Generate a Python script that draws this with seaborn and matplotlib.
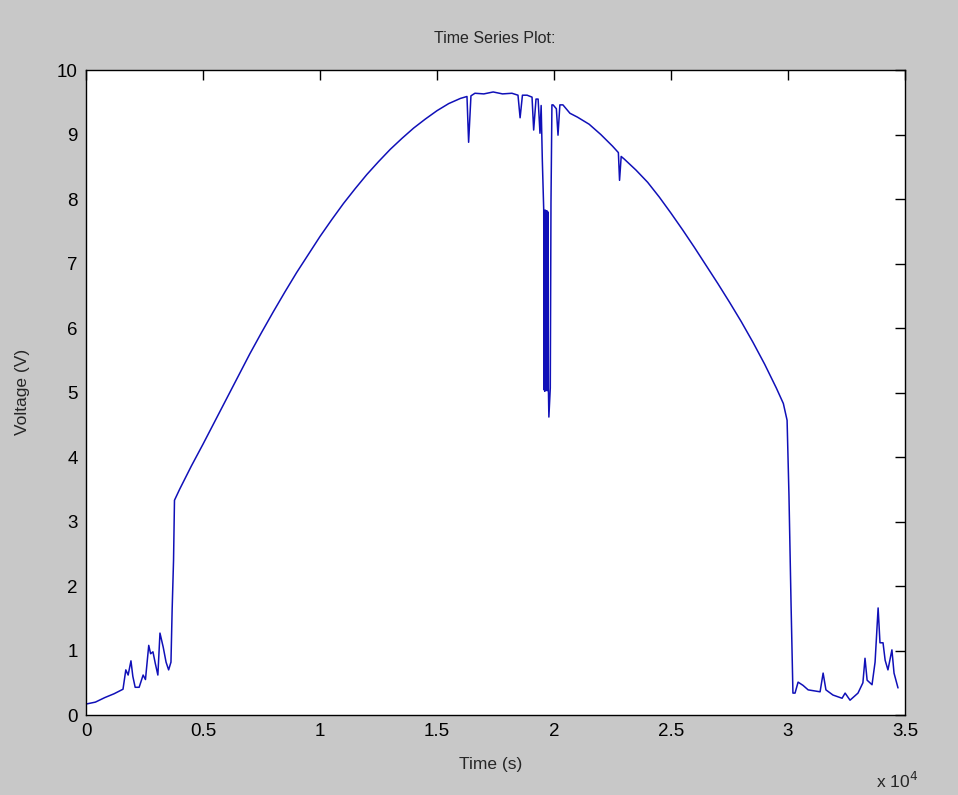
import matplotlib
matplotlib.use("Agg")
import matplotlib.pyplot as plt
import seaborn as sns
import pandas as pd
from matplotlib.ticker import FuncFormatter

# Data
time_s = [0, 400, 800, 1200, 1580, 1700, 1800, 1920, 2000, 2100, 2270, 2440, 2540,
          2680, 2760, 2860, 2960, 3070, 3160, 3300, 3420, 3530, 3630, 3680, 3740,
          3780, 4000, 4500, 5000, 5500, 6000, 6500, 7000, 7500, 8000, 8500, 9000,
          9500, 10000, 10500, 11000, 11500, 12000, 12500, 13000, 13500, 14000,
          14500, 15000, 15500, 16000, 16280, 16350, 16450, 16620, 17000, 17400,
          17800, 18200, 18460, 18550, 18650, 18850, 19060, 19130, 19230, 19320,
          19400, 19450, 19500, 19560,
          19575, 19590, 19605, 19620, 19635, 19650, 19665, 19680, 19695, 19710,
          19725, 19740, 19760, 19780, 19840, 19870, 19910, 19960, 20100, 20170,
          20250, 20380, 20680, 21000, 21500, 22000, 22500, 22750, 22800, 22870,
          23000, 23500, 24000, 24500, 25000, 25500, 26000, 26500, 27000, 27500,
          28000, 28500, 29000, 29500, 29800, 29960,
          30040, 30130, 30210, 30300, 30430, 30640, 30860, 31370, 31500, 31620,
          31920, 32310, 32440, 32650, 32990, 33200, 33290, 33380, 33590, 33720,
          33850, 33930, 34060, 34150, 34270, 34440, 34530, 34700]
voltage_v = [0.17, 0.20, 0.27, 0.33, 0.40, 0.70, 0.62, 0.84, 0.60, 0.43, 0.43, 0.62, 0.55,
             1.08, 0.95, 0.98, 0.80, 0.62, 1.27, 1.05, 0.82, 0.70, 0.82, 1.63, 2.40,
             3.33, 3.50, 3.86, 4.20, 4.55, 4.90, 5.25, 5.60, 5.93, 6.25, 6.56, 6.86,
             7.14, 7.42, 7.68, 7.93, 8.16, 8.38, 8.58, 8.77, 8.94, 9.10,
             9.24, 9.37, 9.48, 9.56, 9.59, 8.88, 9.60, 9.64, 9.63, 9.66,
             9.63, 9.64, 9.61, 9.26, 9.61, 9.61, 9.58, 9.07, 9.55, 9.55,
             9.02, 9.45, 8.60, 7.83,
             5.04, 7.82, 5.02, 7.83, 5.05, 7.80, 5.03, 7.82, 5.04, 7.81,
             5.03, 7.80, 5.05, 4.62, 5.07, 7.94, 9.46, 9.46, 9.40, 8.99,
             9.46, 9.46, 9.33, 9.27, 9.16, 9.00, 8.82, 8.72, 8.29, 8.66,
             8.62, 8.45, 8.26, 8.03, 7.78, 7.52, 7.25, 6.97, 6.69, 6.40,
             6.10, 5.78, 5.44, 5.07, 4.83, 4.57,
             3.41, 1.71, 0.34, 0.34, 0.51, 0.46, 0.39, 0.36, 0.65, 0.39,
             0.31, 0.26, 0.34, 0.23, 0.34, 0.50, 0.88, 0.54, 0.47, 0.82,
             1.66, 1.12, 1.12, 0.85, 0.70, 1.01, 0.65, 0.42]

x_ticks = [0, 5000, 10000, 15000, 20000, 25000, 30000, 35000]
y_ticks = [0, 1, 2, 3, 4, 5, 6, 7, 8, 9, 10]

df = pd.DataFrame({"Time (s)": time_s, "Voltage (V)": voltage_v})

sns.set_style("white")
plt.rcParams["font.family"] = ["Liberation Sans", "DejaVu Sans"]

fig = plt.figure(figsize=(9.58, 7.95), dpi=100, facecolor="#c8c8c8")
ax = fig.add_axes([0.0898, 0.1006, 0.8549, 0.8113])
ax.set_facecolor("white")

sns.lineplot(data=df, x="Time (s)", y="Voltage (V)", ax=ax, sort=False,
             estimator=None, color="#1010b8", linewidth=1.1)

ax.set_xlim(0, 35000)
ax.set_ylim(0, 10)
ax.set_xticks(x_ticks)
ax.set_yticks(y_ticks)
ax.xaxis.set_major_formatter(FuncFormatter(lambda v, p: f"{v/1e4:g}"))
ax.tick_params(direction="in", length=7, width=1, top=True, right=True,
               labelsize=13.5, colors="black", pad=6)
for s in ax.spines.values():
    s.set_visible(True)
    s.set_color("black")
    s.set_linewidth(1)

ax.set_xlabel("")
ax.set_ylabel("")
fig.text(0.516, 0.952, "Time Series Plot:", ha="center", va="center", fontsize=11.5)
fig.text(0.512, 0.038, "Time (s)", ha="center", va="center", fontsize=12.5)
fig.text(0.023, 0.507, "Voltage (V)", ha="center", va="center", rotation=90, fontsize=12.5)
fig.text(0.958, 0.018, r"x 10$^{4}$", ha="right", va="center", fontsize=12.5)

fig.savefig("out.png", dpi=100, facecolor=fig.get_facecolor())
